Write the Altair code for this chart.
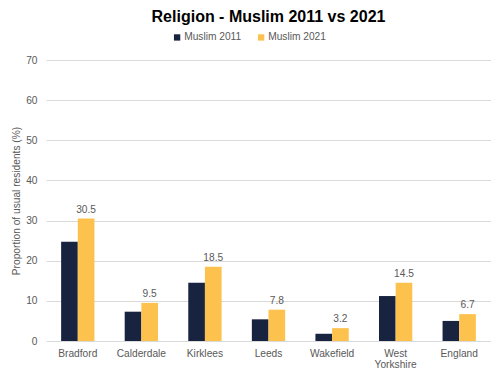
import altair as alt
import pandas as pd

areas = ["Bradford", "Calderdale", "Kirklees", "Leeds", "Wakefield", "West Yorkshire", "England"]
muslim_2011 = [24.7, 7.3, 14.5, 5.4, 1.8, 11.2, 5.0]
muslim_2021 = [30.5, 9.5, 18.5, 7.8, 3.2, 14.5, 6.7]
series = ["Muslim 2011", "Muslim 2021"]
colors = ["#18233F", "#FCC24D"]

rows = []
for a, v1, v2 in zip(areas, muslim_2011, muslim_2021):
    rows.append({"area": a, "series": series[0], "value": v1})
    rows.append({"area": a, "series": series[1], "value": v2})
df = pd.DataFrame(rows)

FONT = "Liberation Sans"
GREY = "#595959"
FS = 10.2

x = alt.X("area:N", sort=areas, title=None,
          scale=alt.Scale(paddingInner=0.476, paddingOuter=0.238),
          axis=alt.Axis(labelAngle=0, ticks=False, domain=False, labelFontSize=FS,
                        labelColor=GREY, labelFont=FONT, labelPadding=7, labelLineHeight=11,
                        labelExpr="datum.label == 'West Yorkshire' ? ['West', 'Yorkshire'] : datum.label"))
y = alt.Y("value:Q", title="Proportion of usual residents (%)",
          scale=alt.Scale(domain=[0, 70], nice=False),
          axis=alt.Axis(values=[0, 10, 20, 30, 40, 50, 60, 70], ticks=False, domain=False,
                        gridColor="#D9D9D9", labelFontSize=FS, labelColor=GREY, labelFont=FONT,
                        labelPadding=9, titleFontSize=FS, titleColor=GREY, titleFont=FONT,
                        titleFontWeight="normal", titlePadding=4))

bars = alt.Chart(df).mark_bar().encode(
    x=x, y=y,
    xOffset=alt.XOffset("series:N", sort=series),
    color=alt.Color("series:N", sort=series, scale=alt.Scale(domain=series, range=colors),
                    legend=alt.Legend(title=None, orient="none", direction="horizontal",
                                      legendX=126, legendY=-28, symbolType="square",
                                      symbolSize=40, labelFontSize=FS, labelColor=GREY,
                                      labelFont=FONT, labelOffset=2, columnPadding=14,
                                      symbolStrokeWidth=0)),
)

labels = alt.Chart(df).transform_filter(alt.datum.series == "Muslim 2021").mark_text(
    dy=-9, fontSize=FS, color=GREY, font=FONT
).encode(
    x=alt.X("area:N", sort=areas),
    xOffset=alt.XOffset("series:N", sort=series, scale=alt.Scale(domain=series)),
    y="value:Q",
    text=alt.Text("value:Q", format=".1f"),
)

chart = alt.layer(bars, labels).properties(
    width=445, height=281,
    autosize=alt.AutoSizeParams(type="none"),
    padding={"left": 38, "top": 52, "right": 0, "bottom": 28},
    title=alt.Title("Religion - Muslim 2011 vs 2021", fontSize=16, font=FONT, fontWeight="bold",
                    color="#000000", anchor="middle", offset=7),
).configure_view(stroke=None)

chart.save("out.html", embed_options={"renderer": "svg", "actions": False})
